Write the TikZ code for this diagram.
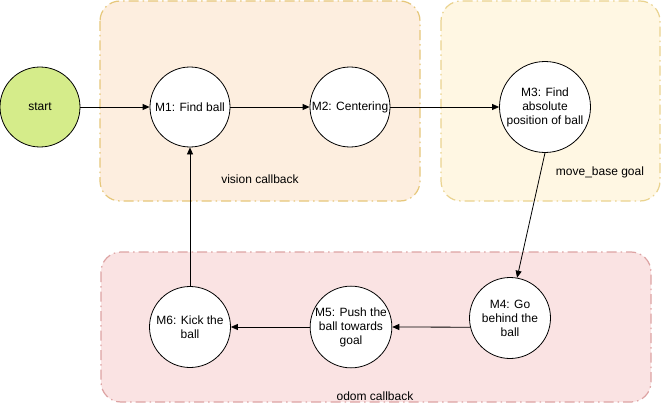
\documentclass[tikz,border=0pt]{standalone}
\usepackage{fontspec}
\setmainfont{Liberation Sans}
\usetikzlibrary{arrows.meta}
\definecolor{visfill}{HTML}{FDEEDF}
\definecolor{visdraw}{HTML}{E6C77A}
\definecolor{mbfill}{HTML}{FFF7E3}
\definecolor{mbdraw}{HTML}{EAD38F}
\definecolor{odfill}{HTML}{FAE3E3}
\definecolor{oddraw}{HTML}{DDA3A3}
\definecolor{startfill}{HTML}{D5EC8A}
\tikzset{
  x=1pt,y=-1pt,
  grp/.style={rounded corners=20pt, line width=1.2pt, dash pattern=on 10pt off 4pt on 1.5pt off 4pt},
  state/.style={circle, draw=black, fill=white, line width=0.8pt, inner sep=0pt, align=center, font=\fontsize{12}{14}\selectfont},
  conn/.style={-{Triangle[length=7pt,width=6pt]}, line width=0.8pt},
  lbl/.style={font=\fontsize{12}{14}\selectfont}
}
\begin{document}
\begin{tikzpicture}
\useasboundingbox (0,0) rectangle (662,404);
\fill[white] (0,0) rectangle (662,404);
\draw[grp, fill=visfill, draw=visdraw] (100,1) rectangle (420,201);
\draw[grp, fill=mbfill, draw=mbdraw] (441,1) rectangle (660,201);
\draw[grp, fill=odfill, draw=oddraw] (101,252) rectangle (651,402);
\node[lbl] (lv) at (260,179) {vision callback};
\node[lbl] (lm) at (600,172) {move\_base goal};
\node[lbl] (lo) at (375,396) {odom callback};
\node[state, fill=startfill, minimum size=80pt] (s) at (40,107) {start};
\node[state, minimum size=80pt] (m1) at (190,107) {M1: Find ball};
\node[state, minimum size=80pt] (m2) at (350,107) {M2: Centering};
\node[state, minimum size=91pt] (m3) at (545,107) {M3: Find\\absolute\\position of ball};
\node[state, minimum size=81pt] (m4) at (510,318) {M4: Go\\behind the\\ball};
\node[state, minimum size=81pt] (m5) at (351,327) {M5: Push the\\ball towards\\goal};
\node[state, minimum size=81pt] (m6) at (190,327) {M6: Kick the\\ball};
\draw[conn] (s) -- (m1);
\draw[conn] (m1) -- (m2);
\draw[conn] (m2) -- (m3);
\draw[conn] (m3.south) -- (m4.80);
\draw[conn] (m4.193) -- (m5.east);
\draw[conn] (m5) -- (m6);
\draw[conn] (m6) -- (m1);
\end{tikzpicture}
\end{document}
